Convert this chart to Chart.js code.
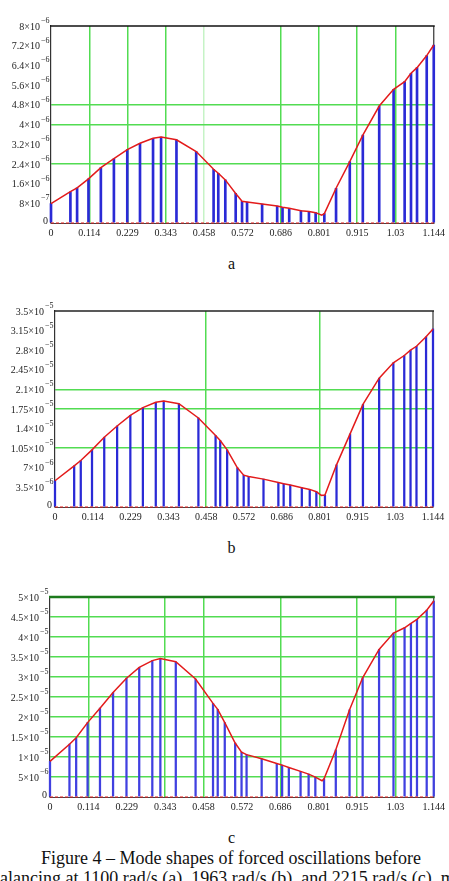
<!DOCTYPE html>
<html>
<head>
<meta charset="utf-8">
<script src="https://cdn.jsdelivr.net/npm/chart.js@4.4.0/dist/chart.umd.min.js"></script>
<style>
html, body { margin: 0; padding: 0; background: #fff; overflow: hidden; }
body { width: 449px; height: 881px; position: relative; font-family: 'Liberation Serif', 'Times New Roman', serif; color: #111; }
canvas { position: absolute; left: 0; }
.cap { position: absolute; left: 0; width: 463px; text-align: center; font-size: 16px; line-height: 16px; }
.fig { position: absolute; font-size: 18px; line-height: 20px; white-space: nowrap; }
</style>
</head>
<body>
<canvas id="chartA" width="449" height="245" style="top:0px"></canvas>
<div class="cap" style="top:256px">a</div>
<canvas id="chartB" width="449" height="245" style="top:285px"></canvas>
<div class="cap" style="top:540px">b</div>
<canvas id="chartC" width="449" height="250" style="top:570px"></canvas>
<div class="cap" style="top:830px">c</div>
<div class="fig" style="left:-150px;width:762px;top:848px;text-align:center">Figure 4 – Mode shapes of forced oscillations before</div>
<div class="fig" style="left:-9px;top:868px;text-align:left">balancing at 1100 rad/s (a), 1963 rad/s (b), and 2215 rad/s (c), m</div>

<script>
// === DATEN ===
const xTickValues = [0, 0.1144, 0.2288, 0.3432, 0.4576, 0.572, 0.6864, 0.8008, 0.9152, 1.0296, 1.144];
const xTickLabels = ['0', '0.114', '0.229', '0.343', '0.458', '0.572', '0.686', '0.801', '0.915', '1.03', '1.144'];

// Knotenpositionen (Stäbe)
const nodeX = [0, 0.058, 0.078, 0.112, 0.149, 0.188, 0.228, 0.266, 0.305, 0.329, 0.375, 0.434,
    0.486, 0.500, 0.521, 0.552, 0.571, 0.586, 0.631, 0.676, 0.692, 0.712, 0.747, 0.771,
    0.791, 0.817, 0.852, 0.893, 0.932, 0.981, 1.024, 1.057, 1.076, 1.094, 1.123, 1.144];

// a – 1100 rad/s
const ampA = [7.9e-7, 1.27e-6, 1.43e-6, 1.79e-6, 2.25e-6, 2.61e-6, 2.98e-6, 3.24e-6, 3.44e-6, 3.49e-6, 3.38e-6, 2.90e-6,
    2.18e-6, 2.02e-6, 1.75e-6, 1.20e-6, 8.8e-7, 8.5e-7, 7.7e-7, 6.9e-7, 6.4e-7, 6.0e-7, 5.0e-7, 4.7e-7,
    4.2e-7, 3.8e-7, 1.41e-6, 2.49e-6, 3.57e-6, 4.75e-6, 5.43e-6, 5.74e-6, 6.08e-6, 6.31e-6, 6.80e-6, 7.23e-6];
const dipA = [0.809, 3.2e-7];
const yTicksA = [0, 8e-7, 1.6e-6, 2.4e-6, 3.2e-6, 4e-6, 4.8e-6, 5.6e-6, 6.4e-6, 7.2e-6, 8e-6];

// b – 1963 rad/s
const ampB = [4.69e-6, 7.36e-6, 8.30e-6, 1.02e-5, 1.246e-5, 1.447e-5, 1.637e-5, 1.774e-5, 1.869e-5, 1.892e-5, 1.845e-5, 1.59e-5,
    1.275e-5, 1.186e-5, 1.02e-5, 7.0e-6, 5.69e-6, 5.46e-6, 4.98e-6, 4.39e-6, 4.15e-6, 3.92e-6, 3.44e-6, 3.14e-6,
    2.73e-6, 2.14e-6, 7.53e-6, 1.305e-5, 1.833e-5, 2.30e-5, 2.575e-5, 2.705e-5, 2.80e-5, 2.87e-5, 3.04e-5, 3.18e-5];
const dipB = [0.806, 2.08e-6];
const yTicksB = [0, 3.5e-6, 7e-6, 1.05e-5, 1.4e-5, 1.75e-5, 2.1e-5, 2.45e-5, 2.8e-5, 3.15e-5, 3.5e-5];

// c – 2215 rad/s
const ampC = [8.9e-6, 1.32e-5, 1.48e-5, 1.86e-5, 2.22e-5, 2.61e-5, 2.97e-5, 3.24e-5, 3.41e-5, 3.46e-5, 3.38e-5, 2.95e-5,
    2.34e-5, 2.19e-5, 1.86e-5, 1.35e-5, 1.12e-5, 1.06e-5, 9.55e-6, 8.39e-6, 7.97e-6, 7.39e-6, 6.40e-6, 5.73e-6,
    4.98e-6, 4.57e-6, 1.18e-5, 2.18e-5, 2.98e-5, 3.69e-5, 4.10e-5, 4.23e-5, 4.34e-5, 4.44e-5, 4.67e-5, 4.90e-5];
const dipC = [0.811, 4.07e-6];
const yTicksC = [0, 5e-6, 1e-5, 1.5e-5, 2e-5, 2.5e-5, 3e-5, 3.5e-5, 4e-5, 4.5e-5, 5e-5];

// === HILFSFUNKTIONEN ===
const SERIF = '"Liberation Serif", "Times New Roman", serif';
const GREEN = '#52dc52';
const GREEN_LIGHT = '#c6f3c6';

function supLabel(v) {
    if (v === 0) return ['0', ''];
    const [m, e] = Number(v.toPrecision(3)).toExponential().split('e');
    return [m + '×10', e.replace('-', '−')];
}

// Rahmen oben/rechts und Y-Beschriftung mit Exponent
const framePlugin = {
    id: 'mathcadFrame',
    beforeDatasetsDraw(chart, args, o) {
        const { ctx, chartArea: a } = chart;
        ctx.save();
        ctx.strokeStyle = '#333';
        ctx.lineWidth = 1.2;
        ctx.beginPath();
        ctx.moveTo(a.right, a.top);
        ctx.lineTo(a.right, a.bottom);
        ctx.stroke();
        ctx.strokeStyle = o.topColor;
        ctx.lineWidth = o.topWidth;
        ctx.beginPath();
        ctx.moveTo(a.left - 1, a.top);
        ctx.lineTo(a.right + 1, a.top);
        ctx.stroke();
        ctx.restore();
    },
    afterDraw(chart, args, o) {
        const { ctx, chartArea: a } = chart;
        const s = chart.scales.y;
        ctx.save();
        ctx.fillStyle = '#222';
        ctx.textBaseline = 'middle';
        o.ticks.forEach(v => {
            const y = s.getPixelForValue(v);
            const [main, exp] = supLabel(v);
            ctx.font = '10px ' + SERIF;
            ctx.textAlign = 'right';
            if (!exp) {
                ctx.fillText(main, a.left - 3, y - 2);
                return;
            }
            ctx.fillText(main, a.left - 11, y + 1);
            ctx.font = '8px ' + SERIF;
            ctx.textAlign = 'left';
            ctx.fillText(exp, a.left - 10, y - 5);
        });
        ctx.restore();
    }
};

function createModeChart(canvasId, amp, dip, yTicks, cfg) {
    const stems = nodeX.map((x, i) => ({ x, y: amp[i] }));
    const curve = stems.concat([{ x: dip[0], y: dip[1] }]).sort((p, q) => p.x - q.x);
    const xMin = xTickValues[0];
    const xMax = xTickValues[xTickValues.length - 1];
    const canvas = document.getElementById(canvasId);

    return new Chart(canvas, {
        type: 'bar',
        data: {
            datasets: [
                {
                    type: 'line',
                    data: curve,
                    borderColor: '#e31b1b',
                    borderWidth: 1.5,
                    pointRadius: 0,
                    tension: 0,
                    order: 0,
                    clip: 3
                },
                {
                    type: 'line',
                    data: [{ x: xMin, y: 0 }, { x: xMax, y: 0 }],
                    borderColor: '#e31b1b',
                    borderWidth: 1.2,
                    borderDash: [3, 2],
                    pointRadius: 0,
                    order: 0,
                    clip: 3
                },
                {
                    type: 'bar',
                    data: stems,
                    backgroundColor: cfg.stemColor,
                    barThickness: cfg.stemWidth,
                    borderWidth: 0,
                    grouped: false,
                    order: 1,
                    clip: 3
                }
            ]
        },
        options: {
            responsive: false,
            animation: false,
            layout: { padding: { top: cfg.top, right: 449 - cfg.right, left: 0, bottom: 0 } },
            plugins: {
                legend: { display: false },
                tooltip: { enabled: false },
                mathcadFrame: { ticks: yTicks, topColor: cfg.topColor, topWidth: cfg.topWidth }
            },
            scales: {
                x: {
                    type: 'linear',
                    min: xMin,
                    max: xMax,
                    offset: false,
                    afterBuildTicks: s => { s.ticks = xTickValues.map(v => ({ value: v })); },
                    afterFit: s => { s.height = cfg.axisH; },
                    grid: {
                        offset: false,
                        drawTicks: false,
                        lineWidth: 1.5,
                        color: c => cfg.vGrid.includes(c.index) ? GREEN : (cfg.vLight.includes(c.index) ? GREEN_LIGHT : 'rgba(0,0,0,0)')
                    },
                    border: { display: true, color: '#444', width: 1 },
                    ticks: {
                        autoSkip: false,
                        maxRotation: 0,
                        padding: 4,
                        color: '#222',
                        font: { family: SERIF, size: 10 },
                        callback: (v, i) => xTickLabels[i]
                    }
                },
                y: {
                    type: 'linear',
                    min: 0,
                    max: yTicks[yTicks.length - 1],
                    afterBuildTicks: s => { s.ticks = yTicks.map(v => ({ value: v })); },
                    afterFit: s => { s.width = cfg.left; },
                    grid: {
                        drawTicks: false,
                        lineWidth: 1.5,
                        color: c => cfg.hGrid.includes(c.index) ? GREEN : 'rgba(0,0,0,0)'
                    },
                    border: { display: true, color: '#333', width: 1.2 },
                    ticks: { display: false }
                }
            }
        },
        plugins: [framePlugin]
    });
}

// === DIAGRAMME ===
function drawAll() {
    createModeChart('chartA', ampA, dipA, yTicksA, {
        top: 26, left: 51, right: 434, axisH: 22,
        vGrid: [1, 2, 3, 6, 7, 8, 9], vLight: [4], hGrid: [3, 5, 6],
        topColor: '#111', topWidth: 1.5, stemColor: '#2a2ad6', stemWidth: 2
    });
    createModeChart('chartB', ampB, dipB, yTicksB, {
        top: 26, left: 55, right: 433, axisH: 23,
        vGrid: [4, 7], vLight: [], hGrid: [3, 5, 6],
        topColor: '#222', topWidth: 1.5, stemColor: '#2a2ad6', stemWidth: 1.6
    });
    createModeChart('chartC', ampC, dipC, yTicksC, {
        top: 27, left: 50, right: 434, axisH: 23,
        vGrid: [1, 3, 4, 6, 8, 9], vLight: [], hGrid: [1, 2, 3, 4, 5, 6, 7, 8, 9],
        topColor: '#1c7a1c', topWidth: 2.5, stemColor: '#4040e0', stemWidth: 1.6
    });
}

// Schrift zuerst laden, damit Canvas die Serifenschrift nutzt
if (document.fonts && document.fonts.load) {
    document.fonts.load('10px "Liberation Serif"').then(drawAll, drawAll);
} else {
    drawAll();
}
</script>
</body>
</html>
